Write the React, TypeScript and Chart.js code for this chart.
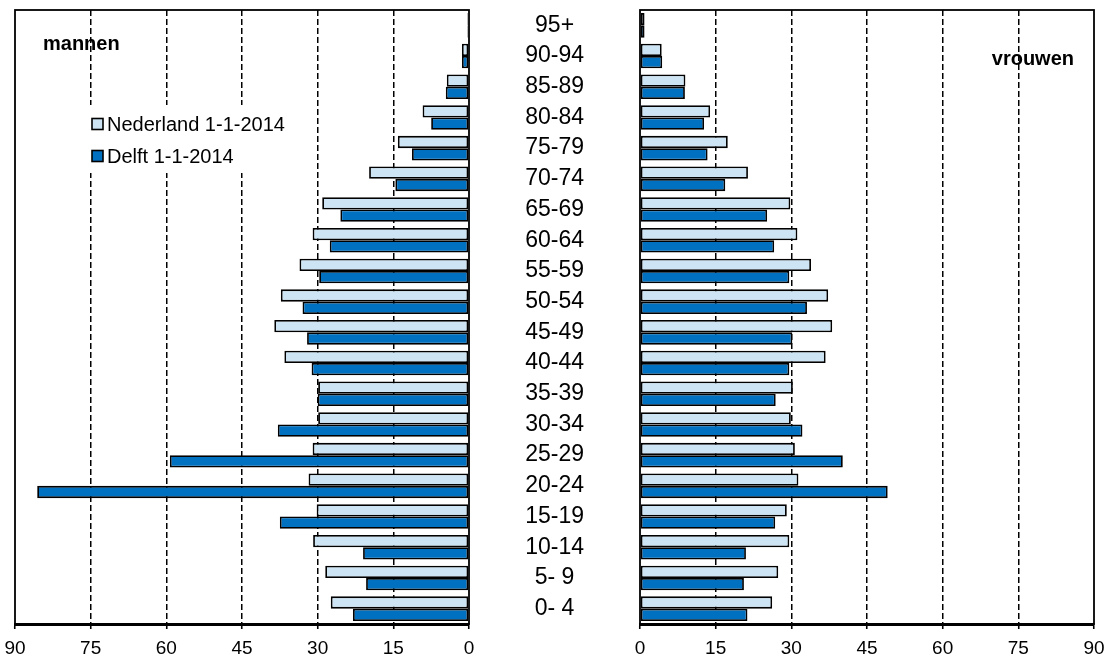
import React, { useEffect, useRef } from 'react';
import { Chart, registerables } from 'chart.js';

Chart.register(...registerables);

const FONT = '"Liberation Sans", Arial, Helvetica, sans-serif';

// Age groups, youngest first (y axis is reversed so 95+ sits on top)
const ageGroups = ['0- 4', '5- 9', '10-14', '15-19', '20-24', '25-29', '30-34', '35-39', '40-44', '45-49', '50-54', '55-59', '60-64', '65-69', '70-74', '75-79', '80-84', '85-89', '90-94', '95+'];

const seriesNames = ['Nederland 1-1-2014', 'Delft 1-1-2014'];

// mannen (left panel)
const menNederland = [27.4, 28.5, 30.9, 30.2, 31.8, 31.0, 29.9, 29.9, 36.6, 38.6, 37.3, 33.6, 31.0, 29.1, 19.8, 14.1, 9.2, 4.4, 1.4, 0.3];
const menDelft = [23.0, 20.4, 21.0, 37.5, 85.6, 59.3, 37.9, 30.0, 31.2, 32.1, 33.0, 29.7, 27.6, 25.5, 14.6, 11.3, 7.5, 4.6, 1.4, 0.3];

// vrouwen (right panel)
const womenNederland = [26.2, 27.4, 29.6, 29.1, 31.4, 30.7, 29.9, 30.3, 36.8, 38.1, 37.3, 33.9, 31.2, 29.8, 21.4, 17.4, 13.9, 9.0, 4.3, 0.9];
const womenDelft = [21.3, 20.6, 21.0, 26.8, 49.1, 40.2, 32.2, 26.9, 29.6, 30.2, 33.1, 29.6, 26.6, 25.2, 16.9, 13.4, 12.7, 8.9, 4.4, 0.9];

const xTickValues = [0, 15, 30, 45, 60, 75, 90];

const LIGHT = '#CCE4F3';
const DARK = '#0070C0';

const framePlugin = {
  id: 'frame',
  afterDatasetsDraw(chart: any) {
    const { ctx, chartArea } = chart;
    ctx.save();
    ctx.strokeStyle = '#000';
    ctx.lineWidth = 1.8;
    ctx.strokeRect(chartArea.left, chartArea.top, chartArea.right - chartArea.left, chartArea.bottom - chartArea.top);
    ctx.restore();
  },
};

const textPlugin = {
  id: 'panelText',
  beforeDraw(chart: any, _args: any, opts: any) {
    const ctx = chart.ctx;
    ctx.save();
    ctx.font = 'bold 20px ' + FONT;
    ctx.fillStyle = '#000';
    ctx.textBaseline = 'middle';
    ctx.textAlign = opts.align;
    ctx.fillText(opts.title, opts.titleX, opts.titleY);
    ctx.restore();
  },
  afterDraw(chart: any, _args: any, opts: any) {
    if (!opts.legend) return;
    const ctx = chart.ctx;
    ctx.save();
    ctx.fillStyle = '#fff';
    ctx.fillRect(86, 105, 210, 68);
    ctx.font = '20px ' + FONT;
    ctx.textBaseline = 'middle';
    ctx.textAlign = 'left';
    chart.data.datasets.forEach((ds: any, i: number) => {
      const cy = 124 + i * 32;
      ctx.fillStyle = ds.backgroundColor;
      ctx.fillRect(92, cy - 5.5, 11, 11);
      ctx.strokeStyle = '#000';
      ctx.lineWidth = 1.6;
      ctx.strokeRect(92, cy - 5.5, 11, 11);
      ctx.fillStyle = '#000';
      ctx.fillText(ds.label, 107, cy + 1);
    });
    ctx.restore();
  },
};

function makeXScale(reverse: boolean) {
  return {
    type: 'linear',
    min: 0,
    max: 90,
    reverse,
    position: 'bottom',
    afterBuildTicks: (scale: any) => {
      scale.ticks = xTickValues.map((v) => ({ value: v }));
    },
    afterFit: (scale: any) => {
      scale.height = 35;
      scale.paddingLeft = 0;
      scale.paddingRight = 0;
    },
    ticks: { font: { family: FONT, size: 19 }, color: '#000', padding: 8, maxRotation: 0 },
    grid: {
      color: (c: any) => (c.tick && (c.tick.value === 0 || c.tick.value === 90) ? 'rgba(0,0,0,0)' : '#000'),
      lineWidth: 1.5,
      drawTicks: true,
      tickLength: 5,
      tickColor: '#000',
      tickWidth: 1.6,
    },
    border: { display: true, color: '#000', width: 3, dash: [6, 3] },
  };
}

function datasets(nl: number[], delft: number[]) {
  return [
    { label: seriesNames[0], data: nl, backgroundColor: LIGHT, borderColor: '#000', borderWidth: 1.8, borderSkipped: false },
    { label: seriesNames[1], data: delft, backgroundColor: DARK, borderColor: '#000', borderWidth: 1.8, borderSkipped: false },
  ];
}

export default function App() {
  const leftRef = useRef<HTMLCanvasElement>(null);
  const rightRef = useRef<HTMLCanvasElement>(null);

  useEffect(() => {
    const left = new Chart(leftRef.current as HTMLCanvasElement, {
      type: 'bar',
      data: { labels: ageGroups, datasets: datasets(menNederland, menDelft) as any },
      options: {
        indexAxis: 'y',
        animation: false,
        responsive: true,
        maintainAspectRatio: false,
        layout: { padding: { left: 15, right: 11, top: 10, bottom: 0 } },
        datasets: { bar: { categoryPercentage: 0.8, barPercentage: 1.0 } },
        scales: {
          x: makeXScale(true) as any,
          y: { type: 'category', reverse: true, display: false },
        },
        plugins: {
          legend: { display: false },
          tooltip: { enabled: false },
          panelText: { title: 'mannen', titleX: 43, titleY: 44, align: 'left', legend: true },
        } as any,
      },
      plugins: [framePlugin, textPlugin],
    });

    const right = new Chart(rightRef.current as HTMLCanvasElement, {
      type: 'bar',
      data: { labels: ageGroups, datasets: datasets(womenNederland, womenDelft) as any },
      options: {
        indexAxis: 'y',
        animation: false,
        responsive: true,
        maintainAspectRatio: false,
        layout: { padding: { left: 0, right: 15, top: 10, bottom: 0 } },
        datasets: { bar: { categoryPercentage: 0.8, barPercentage: 1.0 } },
        scales: {
          x: makeXScale(false) as any,
          y: {
            type: 'category',
            reverse: true,
            position: 'left',
            grid: { display: false, drawTicks: false },
            border: { display: false },
            ticks: { font: { family: FONT, size: 23 }, color: '#000', crossAlign: 'center', padding: 56, autoSkip: false },
            afterFit: (scale: any) => {
              scale.width = 170;
              scale.paddingTop = 0;
              scale.paddingBottom = 0;
            },
          } as any,
        },
        plugins: {
          legend: { display: false },
          tooltip: { enabled: false },
          panelText: { title: 'vrouwen', titleX: 604, titleY: 59, align: 'right', legend: false },
        } as any,
      },
      plugins: [framePlugin, textPlugin],
    });

    return () => {
      left.destroy();
      right.destroy();
    };
  }, []);

  return (
    <div style={{ position: 'absolute', left: 0, top: 0, width: 1109, height: 659, background: '#fff' }}>
      <div style={{ position: 'absolute', left: 0, top: 0, width: 480, height: 659 }}>
        <canvas ref={leftRef} />
      </div>
      <div style={{ position: 'absolute', left: 470, top: 0, width: 639, height: 659 }}>
        <canvas ref={rightRef} />
      </div>
    </div>
  );
}
